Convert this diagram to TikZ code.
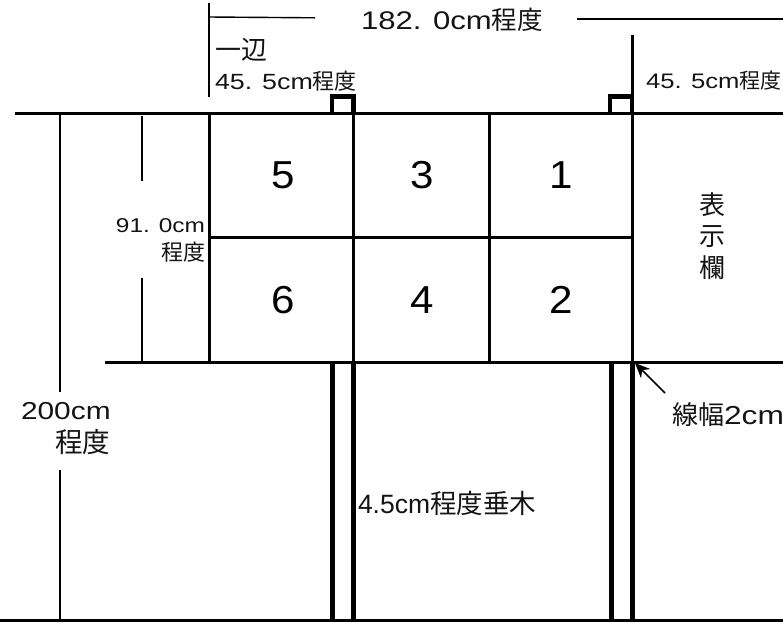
\documentclass[tikz,border=0pt]{standalone}
\usepackage{fontspec}
\usetikzlibrary{arrows.meta}
\setmainfont{Noto Sans CJK JP}
\newfontfamily\lat[FakeStretch=1.22]{Liberation Sans}
\newfontfamily\bignum[FakeStretch=1.08]{Liberation Sans}
\newfontfamily\plainlat{Liberation Sans}
\newcommand{\fs}[1]{\fontsize{#1}{#1}\selectfont}
\tikzset{
  x=1pt,y=-1pt,
  thick line/.style={line width=3pt,line cap=butt},
  post/.style={line width=5pt},
  thin line/.style={line width=1.4pt},
  lab/.style={inner sep=0pt,outer sep=0pt,anchor=west,text=black!92},
  num/.style={inner sep=0pt,anchor=center,font=\bignum\fs{39}},
  vchar/.style={inner sep=0pt,font=\fs{26},text=black!92},
}
\begin{document}
\begin{tikzpicture}
\useasboundingbox (0,0) rectangle (783,622);
% frame
\draw[thick line] (15,113) -- (783,113);
\draw[thick line] (105,362) -- (783,362);
\draw[line width=3.4pt] (0,620.4) -- (783,620.4);
\draw[thick line] (209,113) -- (209,362);
\draw[thick line] (353.5,113) -- (353.5,362);
\draw[thick line] (489,113) -- (489,362);
\draw[thick line] (632,35) -- (632,362);
\draw[thick line] (209,237.5) -- (632,237.5);
% posts
\draw[post] (332,362) -- (332,620);
\draw[post] (353.5,362) -- (353.5,620);
\draw[post] (611,362) -- (611,620);
\draw[post] (632,362) -- (632,620);
% small squares
\draw[line width=4.4pt] (332,113) -- (332,96.5) -- (353.5,96.5) -- (353.5,113);
\draw[line width=4.4pt] (610,113) -- (610,96.5) -- (632,96.5) -- (632,113);
% dimension lines
\draw[line width=2.4pt] (209,3) -- (209,97);
\draw[thin line] (209,17) -- (315,17.8);
\draw[thin line] (577,19) -- (783,19);
\draw[thin line] (60,113) -- (60,392);
\draw[thin line] (60,470) -- (60,620);
\draw[thin line] (142,116) -- (142,181);
\draw[thin line] (142,278) -- (142,362);
% arrow
\coordinate (arrowstart) at (665,393);
\coordinate (arrowend) at (635,363);
\draw[line width=1.5pt,-{Stealth[length=15pt,width=13pt]}] (arrowstart) -- (arrowend);
% numbers
\node[num] (n5) at (283,175) {5};
\node[num] (n3) at (422,175) {3};
\node[num] (n1) at (561,175) {1};
\node[num] (n6) at (283,300) {6};
\node[num] (n4) at (422,300) {4};
\node[num] (n2) at (561,300) {2};
% labels
\node[lab] (top) at (361,20) {\fs{25.5}{\lat 182. 0cm}程度};
\node[lab] (side) at (215,50) {\fs{26}一辺};
\node[lab] (w1) at (215,81) {\fs{22}{\lat 45. 5cm}程度};
\node[lab] (w2) at (646,81) {\fs{21}{\lat 45. 5cm}程度};
\node[lab,anchor=east] (h1a) at (205,226) {\fs{20}{\lat 91. 0cm}};
\node[lab,anchor=east] (h1b) at (205,252) {\fs{22}程度};
\node[lab] (h2a) at (21,411) {\fs{24.5}{\lat 200cm}};
\node[lab] (h2b) at (55,442) {\fs{27.5}程度};
\node[lab] (lw) at (672,415) {\fs{26}線幅{\lat 2cm}};
\node[lab] (v) at (358,503) {\fs{26.5}{\plainlat 4.5cm}程度垂木};
\node[vchar] (c1) at (712,205) {表};
\node[vchar] (c2) at (712,237) {示};
\node[vchar] (c3) at (712,268) {欄};
\end{tikzpicture}
\end{document}
